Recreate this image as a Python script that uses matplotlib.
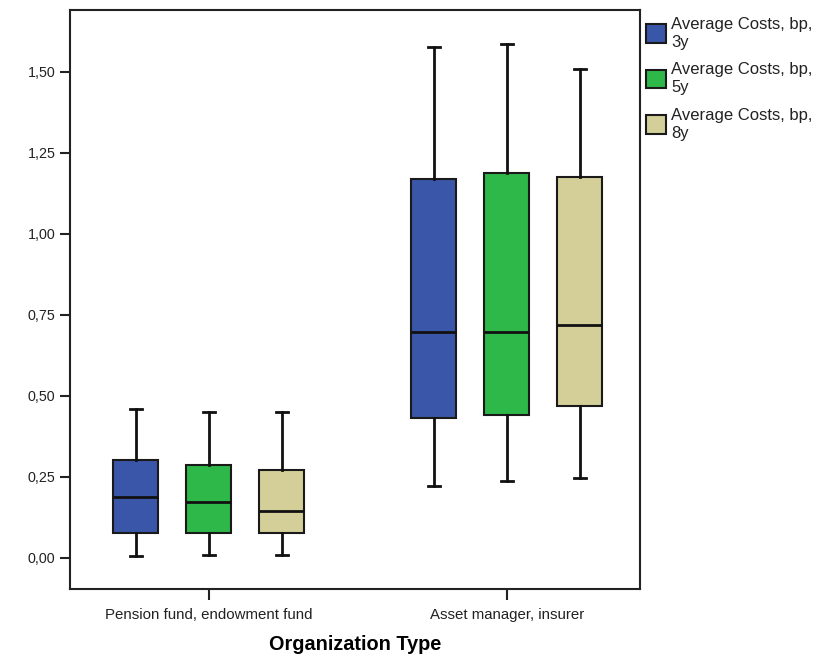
import numpy as np
import matplotlib.pyplot as plt
from matplotlib.patches import Patch
from matplotlib.ticker import FuncFormatter

plt.rcParams['font.family'] = ['Liberation Sans', 'DejaVu Sans']

groups = ["Pension fund, endowment fund", "Asset manager, insurer"]
series = ["Average Costs, bp,\n3y", "Average Costs, bp,\n5y", "Average Costs, bp,\n8y"]
colors = ["#3A56A8", "#2EB84A", "#D4CF98"]

# per series: [group1, group2]
whislo = [[0.007, 0.222], [0.008, 0.237], [0.009, 0.246]]
q1 = [[0.077, 0.431], [0.077, 0.440], [0.077, 0.468]]
med = [[0.188, 0.696], [0.172, 0.696], [0.145, 0.718]]
q3 = [[0.302, 1.167], [0.286, 1.186], [0.271, 1.176]]
whishi = [[0.459, 1.577], [0.450, 1.586], [0.450, 1.509]]

fig = plt.figure(figsize=(8.28, 6.6), dpi=100)
ax = fig.add_axes([0.0845, 0.108, 0.688, 0.877])

offsets = [-0.245, 0.0, 0.245]
for s in range(3):
    stats = []
    for g in range(2):
        stats.append(dict(whislo=whislo[s][g], q1=q1[s][g], med=med[s][g],
                          q3=q3[s][g], whishi=whishi[s][g], fliers=[]))
    pos = [g + offsets[s] for g in range(2)]
    ax.bxp(stats, positions=pos, widths=0.151, patch_artist=True, showfliers=False,
           boxprops=dict(facecolor=colors[s], edgecolor="#1a1a1a", linewidth=1.5),
           medianprops=dict(color="#111111", linewidth=2),
           whiskerprops=dict(color="#111111", linewidth=2),
           capprops=dict(color="#111111", linewidth=2),
           capwidths=0.04, manage_ticks=False)

ax.set_xlim(-0.466, 1.446)
ax.set_ylim(-0.095, 1.69)
ax.set_xticks([0, 1])
ax.set_xticklabels(groups, fontsize=10.8)
ax.set_yticks(np.arange(0, 1.51, 0.25))
ax.yaxis.set_major_formatter(FuncFormatter(lambda v, p: f"{v:.2f}".replace(".", ",")))
ax.tick_params(axis='y', labelsize=10.3, length=7, width=1.5, colors="#222222")
ax.tick_params(axis='x', length=8, width=1.5, pad=6, colors="#222222")
for sp in ax.spines.values():
    sp.set_linewidth(1.5)
    sp.set_color("#222222")

ax.set_xlabel("Organization Type", fontsize=14.3, fontweight='bold', labelpad=9)

handles = [Patch(facecolor=c, edgecolor="#1a1a1a", linewidth=1.5) for c in colors]
leg = ax.legend(handles, series, loc='upper left', bbox_to_anchor=(1.0, 1.0),
                frameon=False, fontsize=12, handlelength=1.2, handleheight=1.35,
                handletextpad=0.3, labelspacing=0.75, borderaxespad=0.0)
for t in leg.get_texts():
    t.set_linespacing(1.25)
    t.set_color("#222222")

fig.savefig("out.png", dpi=100, facecolor="white")
